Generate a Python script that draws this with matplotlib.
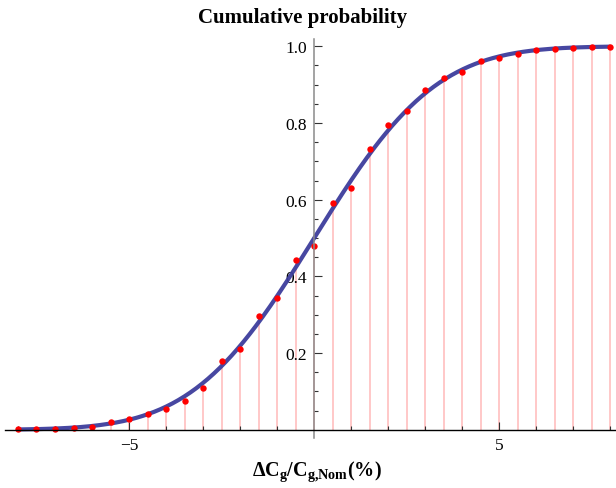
import math
import numpy as np
import matplotlib
matplotlib.use("Agg")
import matplotlib.pyplot as plt
from matplotlib.ticker import FixedLocator

plt.rcParams['mathtext.fontset'] = 'custom'
plt.rcParams['mathtext.rm'] = 'Liberation Serif:bold'
plt.rcParams['mathtext.it'] = 'Liberation Serif:bold'
plt.rcParams['mathtext.bf'] = 'Liberation Serif:bold'

# ---- data ----
x_points = [-8.0, -7.5, -7.0, -6.5, -6.0, -5.5, -5.0, -4.5, -4.0, -3.5, -3.0,
            -2.5, -2.0, -1.5, -1.0, -0.5, 0.0, 0.5, 1.0, 1.5, 2.0, 2.5, 3.0,
            3.5, 4.0, 4.5, 5.0, 5.5, 6.0, 6.5, 7.0, 7.5, 8.0]
cum_prob = [0.001, 0.001, 0.001, 0.005, 0.007, 0.020, 0.028, 0.040, 0.054,
            0.075, 0.108, 0.179, 0.212, 0.298, 0.345, 0.443, 0.478, 0.591,
            0.630, 0.731, 0.796, 0.831, 0.887, 0.917, 0.932, 0.961, 0.969,
            0.979, 0.990, 0.992, 0.996, 0.999, 0.999]
# fitted normal CDF parameters
fit_mu = 0.0
fit_sigma = 2.58
x_tick_labels = ["\u22125", "5"]
x_tick_pos = [-5, 5]
y_tick_pos = [0.2, 0.4, 0.6, 0.8, 1.0]
y_tick_labels = ["0.2", "0.4", "0.6", "0.8", "1.0"]
title_text = "Cumulative probability"
xlabel_text = r"$\mathbf{\Delta C_g/C_{g{,}Nom}(\%)}$"

W, H = 616, 489
fig = plt.figure(figsize=(W / 100, H / 100), dpi=100)

# axes geometry (pixels)
left_px, right_px = 5, 616
top_px, bot_px = 39.6, 438.5
ax = fig.add_axes([left_px / W, 1 - bot_px / H, (right_px - left_px) / W,
                   (bot_px - top_px) / H])
ax.set_xlim(-8.35, 8.15)
ax.set_ylim(-0.02, 1.02)
ax.patch.set_alpha(0)

# stems
ax.vlines(x_points, 0, cum_prob, colors='#ffc4c4', linewidth=1.3, zorder=1)

# fitted curve
xc = np.linspace(min(x_points), max(x_points), 400)
yc = [0.5 * (1 + math.erf((v - fit_mu) / (fit_sigma * math.sqrt(2)))) for v in xc]
ax.plot(xc, yc, color='#3d3d9c', linewidth=3.0, alpha=0.95, zorder=2,
        solid_capstyle='butt')

# points
ax.plot(x_points, cum_prob, 'o', color='#ff0000', markersize=4.6,
        markeredgewidth=0, zorder=3)

# spines Mathematica style
for s in ['top', 'right']:
    ax.spines[s].set_visible(False)
ax.spines['left'].set_position(('data', 0))
ax.spines['bottom'].set_position(('data', 0))
ax.spines['left'].set_color('#8a8a8a')
ax.spines['left'].set_linewidth(1.1)
ax.spines['bottom'].set_color('#000000')
ax.spines['bottom'].set_linewidth(1.0)
ax.spines['left'].set_zorder(4)
ax.spines['bottom'].set_zorder(4)

# x ticks
ax.xaxis.set_major_locator(FixedLocator(x_tick_pos))
ax.set_xticklabels(x_tick_labels, fontfamily='Liberation Serif', fontsize=12.5)
ax.xaxis.set_minor_locator(FixedLocator([v for v in range(-8, 9) if v not in (0, -5, 5)]))
ax.tick_params(axis='x', which='major', direction='in', length=5.5, width=0.8,
               color='#333333', pad=5)
ax.tick_params(axis='x', which='minor', direction='in', length=3.2, width=0.8,
               color='#333333')

# y ticks
ax.yaxis.set_major_locator(FixedLocator(y_tick_pos))
ax.set_yticklabels(y_tick_labels, fontfamily='Liberation Serif', fontsize=12.5)
ax.yaxis.set_minor_locator(FixedLocator([round(0.05 * i, 2) for i in range(1, 21)
                                         if i % 4 != 0]))
ax.tick_params(axis='y', which='major', direction='in', length=5.5, width=0.8,
               color='#333333', pad=5)
ax.tick_params(axis='y', which='minor', direction='in', length=3.2, width=0.8,
               color='#333333')

# title and x label
fig.text(303 / W, 1 - 22.7 / H, title_text, ha='center', va='baseline',
         fontfamily='Liberation Serif', fontweight='bold', fontsize=15)
fig.text(317 / W, 1 - 476.5 / H, xlabel_text, ha='center', va='baseline',
         fontsize=14.5)

fig.savefig('out.png', dpi=100)
